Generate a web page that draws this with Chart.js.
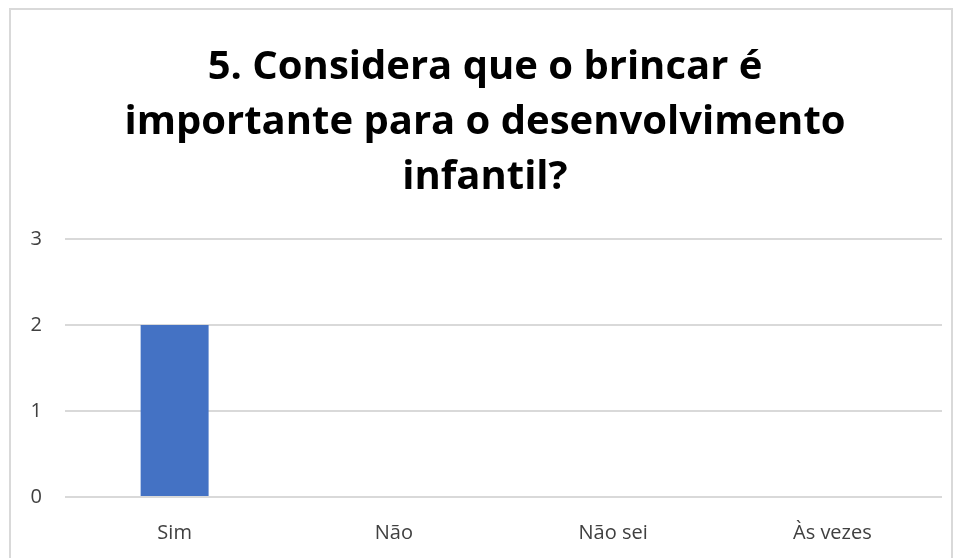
<!DOCTYPE html>
<html>
<head>
<meta charset="utf-8">
<script src="https://cdn.jsdelivr.net/npm/chart.js@4"></script>
<style>
    html, body { margin: 0; padding: 0; background: #fff; }
    #wrap { position: relative; width: 959px; height: 558px; overflow: hidden; }
    #frame {
        position: absolute; left: 9px; top: 8px; width: 940px; height: 600px;
        border: 2px solid #d9d9d9; pointer-events: none;
    }
</style>
</head>
<body>
<div id="wrap">
    <canvas id="chart" width="959" height="558"></canvas>
    <div id="frame"></div>
</div>
<script>
(function () {
    "use strict";

    const categories = ["Sim", "Não", "Não sei", "Às vezes"];
    const values = [2, 0, 0, 0];
    const yTicks = [0, 1, 2, 3];
    const titleLines = [
        "5. Considera que o brincar é",
        "importante para o desenvolvimento",
        "infantil?",
    ];

    new Chart(document.getElementById("chart"), {
        type: "bar",
        data: {
            labels: categories,
            datasets: [
                {
                    data: values,
                    backgroundColor: "#4472C4",
                    categoryPercentage: 1,
                    barPercentage: 0.31,
                },
            ],
        },
        options: {
            responsive: false,
            animation: false,
            layout: {
                autoPadding: false,
                padding: { left: 28, right: 17, top: 40, bottom: 13 },
            },
            plugins: {
                legend: { display: false },
                tooltip: { enabled: false },
                title: {
                    display: true,
                    text: titleLines,
                    color: "#000",
                    font: { family: "Open Sans", size: 40, weight: "bold", lineHeight: 1.375 },
                    padding: { top: 0, bottom: 34 },
                },
            },
            scales: {
                x: {
                    grid: { display: false, drawTicks: false },
                    border: { display: false },
                    ticks: {
                        color: "#404040",
                        font: { family: "Open Sans", size: 20, lineHeight: 1.2 },
                        padding: 24,
                    },
                    // keep the label band tight under the plot
                    afterFit: (axis) => { axis.height = 48; },
                },
                y: {
                    min: yTicks[0],
                    max: yTicks[yTicks.length - 1],
                    afterBuildTicks: (axis) => {
                        axis.ticks = yTicks.map((v) => ({ value: v }));
                    },
                    grid: { color: "#d9d9d9", lineWidth: 2, drawTicks: false },
                    border: { display: false },
                    ticks: {
                        color: "#404040",
                        font: { family: "Open Sans", size: 20 },
                        padding: 23,
                    },
                    afterFit: (axis) => { axis.width = 37; },
                },
            },
        },
    });
})();
</script>
</body>
</html>
